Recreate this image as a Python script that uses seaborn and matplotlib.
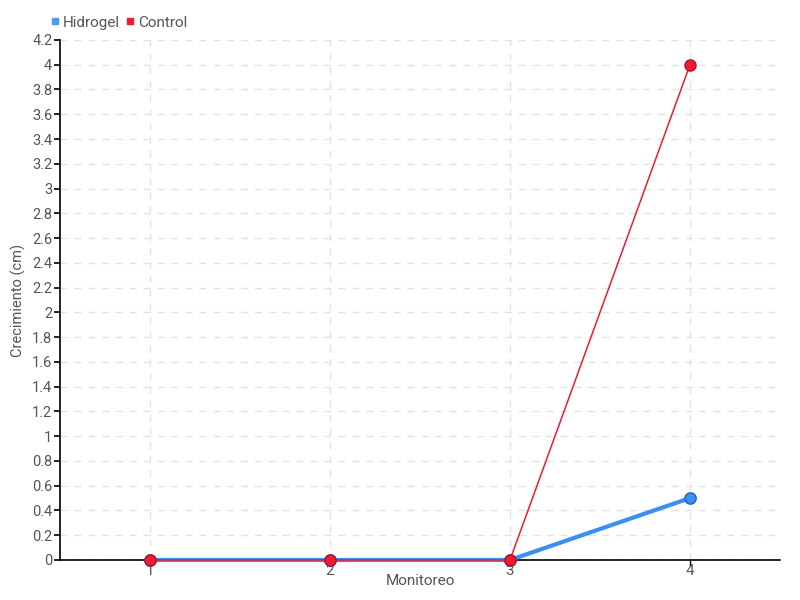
import pandas as pd
import numpy as np
import matplotlib
matplotlib.use("Agg")
import matplotlib.pyplot as plt
from matplotlib.ticker import MultipleLocator, FuncFormatter
from matplotlib.lines import Line2D
import seaborn as sns

monitoreo = [1, 2, 3, 4]
hidrogel = [0, 0, 0, 0.5]
control = [0, 0, 0, 4]

BLUE = "#3a8ff0"
RED = "#ee1c2e"

sns.set_theme(style="white")
plt.rcParams["font.family"] = ["Roboto", "DejaVu Sans"]

df = pd.DataFrame({"Monitoreo": monitoreo, "Hidrogel": hidrogel, "Control": control})

fig = plt.figure(figsize=(8, 6), dpi=100)
ax = fig.add_axes([0.075, 0.0667, 0.9, 0.8667])

sns.lineplot(data=df, x="Monitoreo", y="Hidrogel", ax=ax, color=BLUE, linewidth=3,
             marker="o", markersize=8, markeredgecolor="#2a6cc0", markeredgewidth=1.2,
             zorder=3, clip_on=False)
sns.lineplot(data=df, x="Monitoreo", y="Control", ax=ax, color=RED, linewidth=1.1,
             marker="o", markersize=8, markeredgecolor="#b0102a", markeredgewidth=1,
             zorder=4, clip_on=False)

ax.set_xlim(0.5, 4.5)
ax.set_ylim(0, 4.2)
ax.set_xticks(monitoreo)
ax.yaxis.set_major_locator(MultipleLocator(0.2))
ax.yaxis.set_major_formatter(FuncFormatter(lambda v, p: f"{round(v, 1):g}"))

ax.grid(True, linestyle=(0, (5, 5)), color="#e2e2e2", linewidth=1)
ax.set_axisbelow(True)
for s in ["top", "right"]:
    ax.spines[s].set_visible(False)
for s in ["left", "bottom"]:
    ax.spines[s].set_color("black")
    ax.spines[s].set_linewidth(1.2)

ax.tick_params(axis="y", direction="out", length=4, width=1.2, color="black",
               pad=1.5, labelsize=10.5, labelcolor="#555555", left=True)
ax.tick_params(axis="x", direction="out", length=4, width=1, color="black",
               pad=-1, labelsize=11, labelcolor="#555555", bottom=True)

ax.set_xlabel("Monitoreo", fontsize=11, color="#555555", labelpad=-3)
ax.set_ylabel("Crecimiento (cm)", fontsize=10.5, color="#555555")
ax.yaxis.set_label_coords(-0.047, 0.5)

handles = [
    Line2D([], [], linestyle="none", marker="s", markersize=5, color="#4a9cf0"),
    Line2D([], [], linestyle="none", marker="s", markersize=5, color=RED),
]
fig.legend(handles, ["Hidrogel", "Control"], loc="upper left", bbox_to_anchor=(0.046, 0.997),
           ncol=2, frameon=False, fontsize=11, handlelength=0.6, handletextpad=0.2,
           columnspacing=0.4, labelcolor="#555555")

plt.savefig("out.png", dpi=100)
plt.close()
